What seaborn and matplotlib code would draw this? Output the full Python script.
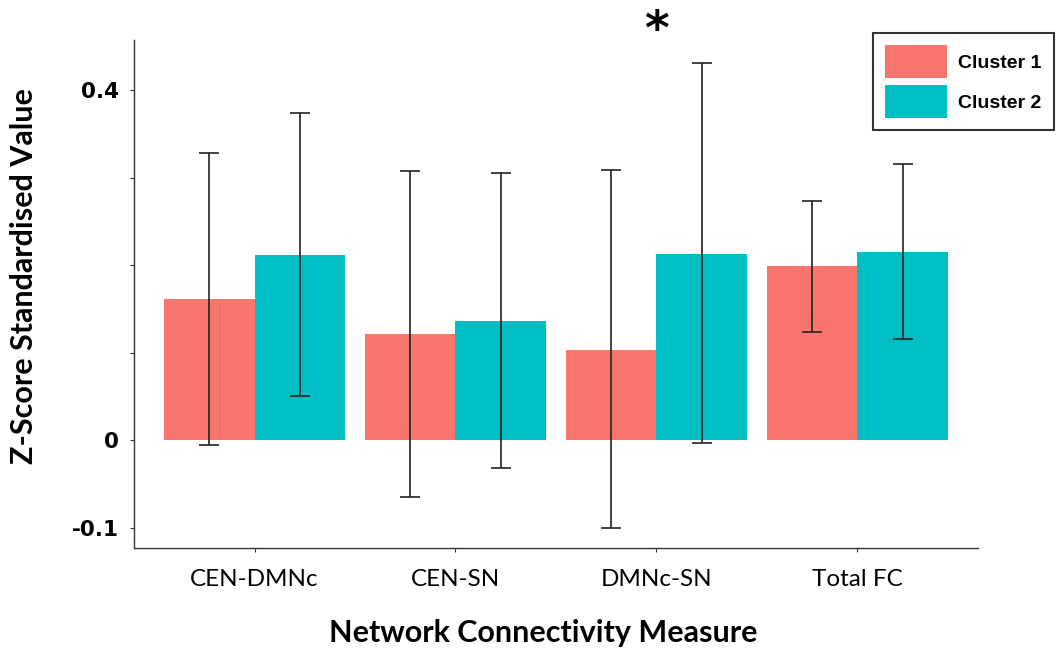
import matplotlib
matplotlib.use("Agg")
import matplotlib.pyplot as plt
import seaborn as sns
import pandas as pd
import numpy as np

measures = ["CEN-DMNc", "CEN-SN", "DMNc-SN", "Total FC"]
clusters = ["Cluster 1", "Cluster 2"]
cluster1_mean = [0.161, 0.121, 0.103, 0.199]
cluster2_mean = [0.211, 0.136, 0.213, 0.215]
cluster1_upper = [0.328, 0.307, 0.309, 0.273]
cluster1_lower = [-0.006, -0.065, -0.101, 0.123]
cluster2_upper = [0.374, 0.305, 0.431, 0.315]
cluster2_lower = [0.050, -0.032, -0.003, 0.115]
ytick_values = [-0.1, 0.0, 0.1, 0.2, 0.3, 0.4]
ytick_labels = ["-0.1", "0", "", "", "", "0.4"]
colors = ["#F8766D", "#00BFC4"]

df = pd.DataFrame({
    "Measure": measures * 2,
    "Cluster": [clusters[0]] * 4 + [clusters[1]] * 4,
    "Value": cluster1_mean + cluster2_mean,
    "Lower": cluster1_lower + cluster2_lower,
    "Upper": cluster1_upper + cluster2_upper,
})

sns.set_style("white")
plt.rcParams["text.color"] = "black"
plt.rcParams["axes.labelcolor"] = "black"
plt.rcParams["xtick.color"] = "black"
plt.rcParams["ytick.color"] = "black"

fig = plt.figure(figsize=(10.59, 6.48), dpi=100)
ax = fig.add_axes([0.1265, 0.1543, 0.797, 0.7837])

sns.barplot(data=df, x="Measure", y="Value", hue="Cluster", order=measures,
            hue_order=clusters, palette=colors, width=0.9, errorbar=None,
            saturation=1, ax=ax, linewidth=0)

# error bars at bar centres
for ci, cl in enumerate(clusters):
    cont = ax.containers[ci]
    sub = df[df["Cluster"] == cl].set_index("Measure").loc[measures]
    xs = [p.get_x() + p.get_width() / 2 for p in cont.patches]
    vals = sub["Value"].values
    lo = vals - sub["Lower"].values
    hi = sub["Upper"].values - vals
    ax.errorbar(xs, vals, yerr=[lo, hi], fmt="none", ecolor="#222222",
                elinewidth=1.2, capsize=7, capthick=1.2, zorder=5)

ax.set_xlim(-0.6, 3.6)
ax.set_ylim(-0.1234, 0.457)
ax.set_yticks(ytick_values)
ax.set_yticklabels(ytick_labels, fontsize=15.5, fontweight="bold",
                   family="DejaVu Sans", color="black")
for lab in ax.get_xticklabels():
    lab.set_fontfamily("Lato")
    lab.set_fontsize(17.5)
    lab.set_color("black")

ax.tick_params(axis="both", which="both", direction="out", length=3,
               width=0.8, colors="#333333", labelcolor="black",
               left=True, bottom=True, pad=8)
ax.tick_params(axis="x", pad=12)
for side in ["top", "right"]:
    ax.spines[side].set_visible(False)
for side in ["left", "bottom"]:
    ax.spines[side].set_color("#333333")
    ax.spines[side].set_linewidth(1.0)

ax.set_xlabel("Network Connectivity Measure", fontsize=22, fontweight="bold",
              family="Lato", color="black")
ax.set_ylabel("Z-Score Standardised Value", fontsize=22, fontweight="bold",
              family="Lato", color="black")
ax.xaxis.set_label_coords(0.485, -0.14)
ax.yaxis.set_label_coords(-0.1137, 0.535)

# significance marker above DMNc-SN
ax.text(2, 0.467, "*", ha="center", va="center", fontsize=34,
        fontweight="bold", family="DejaVu Sans", color="black", clip_on=False)

leg = ax.legend(loc="upper left", bbox_to_anchor=(0.8756, 1.0138),
                frameon=True, fancybox=False, edgecolor="black",
                prop={"family": "Liberation Sans", "weight": "bold", "size": 14},
                handlelength=3.19, handleheight=2.23, handletextpad=0.57,
                borderpad=0.62, labelspacing=0.36, borderaxespad=0)
leg.get_frame().set_linewidth(1.5)
for t in leg.get_texts():
    t.set_color("black")

fig.savefig("out.png", dpi=100)
